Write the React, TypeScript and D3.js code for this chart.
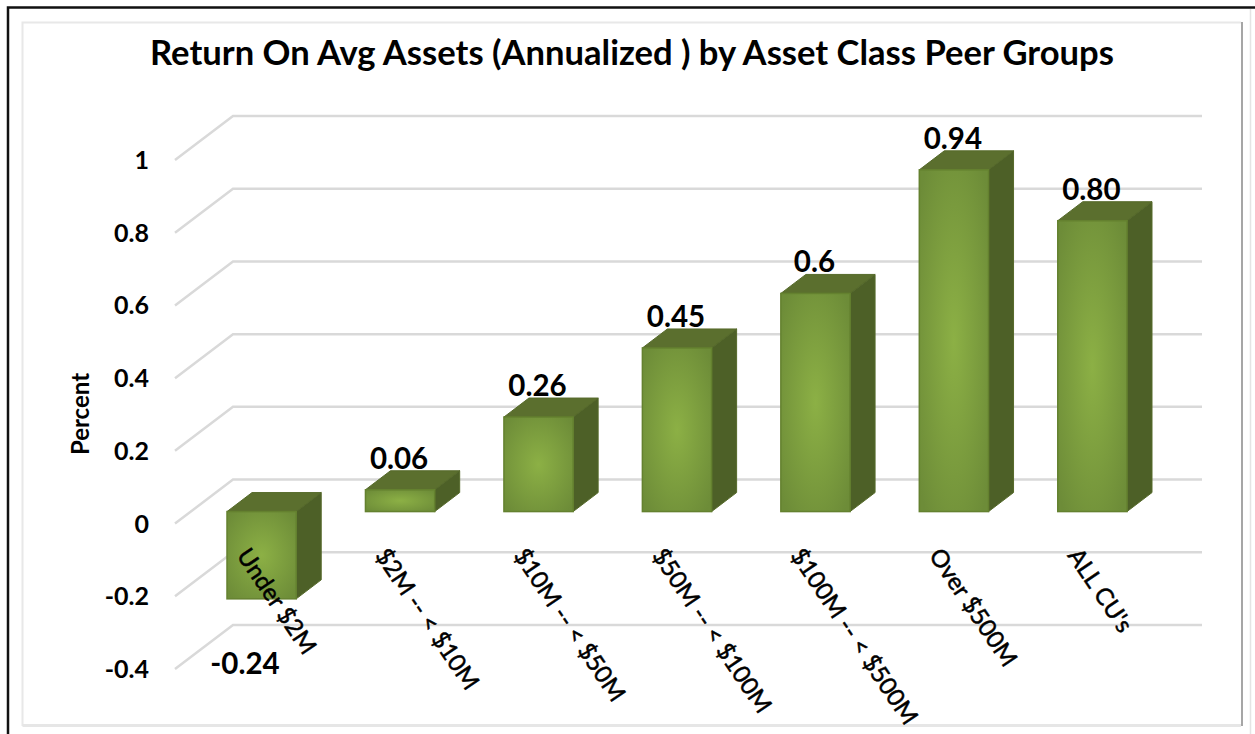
import React from 'react';
import * as d3 from 'd3';

const categories = ['Under $2M', '$2M -- < $10M', '$10M -- < $50M', '$50M -- < $100M', '$100M -- < $500M', 'Over $500M', "ALL CU's"];
const values = [-0.24, 0.06, 0.26, 0.45, 0.6, 0.94, 0.8];
const valueLabels = ['-0.24', '0.06', '0.26', '0.45', '0.6', '0.94', '0.80'];
const yTicks = [-0.4, -0.2, 0, 0.2, 0.4, 0.6, 0.8, 1];

const font = 'Lato, "Open Sans", sans-serif';

export default function App() {
  // back wall of the 3d plot
  const y = d3.scaleLinear().domain([-0.4, 1]).range([625, 116]);
  const x = d3.scaleBand<string>().domain(categories).range([227, 1127]).paddingInner(0.5).paddingOuter(0);
  const bw = x.bandwidth();
  const floorDx = 58, floorDy = 44; // wall to front edge
  const barFront = 32, depthX = 25, depthY = 19;
  const barY = (v: number) => y(v) + barFront;

  return (
    <svg width={1255} height={734} style={{position: 'absolute', left: 0, top: 0, background: '#fff'}} fontFamily={font}>
      <defs>
        <radialGradient id="barFill" cx="50%" cy="50%" r="65%">
          <stop offset="0%" stopColor="#8cb045" />
          <stop offset="100%" stopColor="#6d8c38" />
        </radialGradient>
      </defs>

      {/* frames */}
      <path d="M8,734V7.5H1255" fill="none" stroke="#111" strokeWidth={2.5} />
      <path d="M22.5,726V22.5H1241" fill="none" stroke="#e8e8e8" strokeWidth={2} />
      <path d="M22.5,725.5H1241" fill="none" stroke="#e6e6e6" strokeWidth={3} />
      <path d="M1242,22V726" fill="none" stroke="#a6a6a6" strokeWidth={2} />
      <path d="M1250.5,9V734" fill="none" stroke="#e4e4e4" strokeWidth={1.5} />

      {/* gridlines */}
      {yTicks.map(t => (
        <g key={t}>
          <path
            d={`M${233 - floorDx},${y(t) + floorDy}L233,${y(t)}H1202`}
            fill="none" stroke="#d9d9d9" strokeWidth={2.5}
          />
          <text x={149} y={y(t) + floorDy + 9} textAnchor="end" fontSize={25} fontWeight={700} fill="#000">
            {String(t)}
          </text>
        </g>
      ))}

      <text transform="translate(89,414) rotate(-90)" textAnchor="middle" fontSize={24} fontWeight={700} fill="#000">Percent</text>

      <text x={632} y={65} textAnchor="middle" fontSize={34.6} fontWeight={700} fill="#000">
        Return On Avg Assets (Annualized ) by Asset Class Peer Groups
      </text>

      {/* bars */}
      {categories.map((c, i) => {
        const x0 = x(c)!;
        const x1 = x0 + bw;
        const top = Math.min(barY(values[i]), barY(0));
        const bottom = Math.max(barY(values[i]), barY(0));
        return (
          <g key={c}>
            <polygon points={`${x0},${top} ${x0 + depthX},${top - depthY} ${x1 + depthX},${top - depthY} ${x1},${top}`} fill="#5b6f2e" stroke="#566a2b" />
            <polygon points={`${x1},${top} ${x1 + depthX},${top - depthY} ${x1 + depthX},${bottom - depthY} ${x1},${bottom}`} fill="#4d6027" stroke="#566a2b" />
            <rect x={x0} y={top} width={bw} height={bottom - top} fill="url(#barFill)" stroke="#64812f" strokeWidth={1.5} />
          </g>
        );
      })}

      {/* value labels */}
      {categories.map((c, i) => {
        const x0 = x(c)!;
        const neg = values[i] < 0;
        return (
          <text
            key={c}
            x={neg ? x0 + 18 : x0 + bw / 2 - 1}
            y={neg ? barY(values[i]) + 75 : barY(values[i]) - depthY - 2}
            textAnchor="middle" fontSize={29.5} fontWeight={700} fill="#000"
          >
            {valueLabels[i]}
          </text>
        );
      })}

      {/* category labels */}
      {categories.map(c => (
        <text
          key={c}
          transform={`translate(${x(c)! + 9},${barY(0) + 44}) rotate(56)`}
          fontSize={24} fontWeight={400} fill="#000" stroke="#000" strokeWidth={0.5}
        >
          {c}
        </text>
      ))}
    </svg>
  );
}
